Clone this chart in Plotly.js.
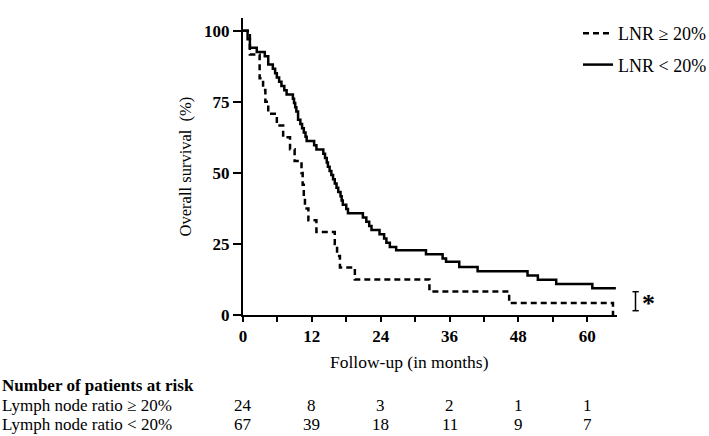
<!DOCTYPE html>
<html>
<head>
<meta charset="utf-8">
<script src="https://cdn.plot.ly/plotly-3.0.1.min.js"></script>
<style>
  html, body { margin: 0; padding: 0; background: #fff; }
  #chart { width: 709px; height: 436px; }
</style>
</head>
<body>
<div id="chart"></div>
<script>
// Kaplan-Meier steps (months, % surviving)
var highMonths = [0, 1.2, 2.9, 3.5, 3.9, 4.4, 5.9, 7.0, 8.2, 9.0, 10.2, 10.4, 10.6, 10.8, 11.4, 12.8, 16.0, 16.4, 16.9, 19.5, 32.5, 46.4, 64.5];
var highSurv   = [100, 91.7, 83.3, 79.2, 75.0, 70.8, 66.7, 62.5, 58.3, 54.2, 50.0, 45.8, 41.7, 37.5, 33.3, 29.2, 25.0, 20.8, 16.7, 12.5, 8.3, 4.2, 0];

var lowMonths = [0, 0.8, 1.2, 2.4, 3.8, 4.4, 5.2, 5.6, 5.9, 6.3, 6.7, 7.2, 7.6, 8.7, 8.9, 9.1, 9.3, 9.6, 10.0, 10.3, 10.6, 10.9, 11.1, 12.4, 12.8, 14.0, 14.3, 14.6, 14.8, 15.1, 15.4, 15.7, 16.0, 16.3, 16.6, 17.0, 17.2, 17.4, 18.0, 18.3, 20.9, 21.5, 22.0, 22.4, 23.8, 24.6, 25.0, 25.6, 26.7, 31.9, 34.8, 35.4, 37.7, 40.9, 49.6, 51.4, 54.6, 60.9, 65.0];
var lowSurv   = [100, 97.0, 94.0, 92.5, 91.0, 88.1, 86.6, 85.1, 83.6, 82.1, 80.6, 79.1, 77.6, 76.1, 74.6, 73.1, 71.6, 68.7, 67.2, 65.7, 64.2, 62.7, 61.2, 59.7, 58.2, 56.7, 55.2, 53.7, 52.2, 50.7, 49.3, 47.8, 46.3, 44.8, 43.3, 41.8, 40.3, 38.8, 37.3, 35.8, 34.3, 32.8, 31.3, 29.9, 28.4, 26.9, 25.4, 23.9, 22.8, 21.4, 19.9, 18.7, 16.9, 15.4, 13.9, 12.4, 10.9, 9.4, 9.4];

var xTicks = [0, 12, 24, 36, 48, 60];
var yTicks = [0, 25, 50, 75, 100];
var riskHigh = [24, 8, 3, 2, 1, 1];
var riskLow  = [67, 39, 18, 11, 9, 7];
var rowLabels = ['Lymph node ratio \u2265 20%', 'Lymph node ratio < 20%'];

var serif = 'Liberation Serif, Times New Roman, serif';
var plotW = 374, plotH = 297, left = 243;

var traceHigh = {
  x: highMonths, y: highSurv,
  mode: 'lines', name: 'LNR \u2265 20%', legendgroup: 'a',
  line: {shape: 'hv', color: '#000', width: 2.5, dash: '6px,4px'}
};
var traceLow = {
  x: lowMonths, y: lowSurv,
  mode: 'lines', name: 'LNR < 20%', legendgroup: 'b',
  line: {shape: 'hv', color: '#000', width: 2.5}
};

function py(p) { return (315 - p) / plotH; }   // pixel row -> paper y
function px(p) { return (p - left) / plotW; }   // pixel col -> paper x

var annotations = [
  {text: 'Follow-up (in months)', xref: 'x', yref: 'paper', x: 29, y: py(362),
   yanchor: 'middle', showarrow: false, font: {family: serif, size: 17.5, color: '#000'}},
  {text: '<b>Number of patients at risk</b>', xref: 'paper', yref: 'paper',
   x: px(0), y: py(385), xanchor: 'left', yanchor: 'middle', showarrow: false,
   font: {family: serif, size: 17, color: '#000'}},
  {text: '<b>*</b>', xref: 'paper', yref: 'paper', x: px(648), y: py(303),
   xanchor: 'center', yanchor: 'middle', showarrow: false,
   font: {family: serif, size: 26, color: '#000'}}
];
var rows = [riskHigh, riskLow];
var rowY = [py(405), py(425)];
rows.forEach(function (vals, r) {
  annotations.push({text: rowLabels[r], xref: 'paper', yref: 'paper', x: px(0), y: rowY[r],
    xanchor: 'left', yanchor: 'middle', showarrow: false, font: {family: serif, size: 17, color: '#000'}});
  vals.forEach(function (v, i) {
    annotations.push({text: String(v), xref: 'x', yref: 'paper', x: xTicks[i], y: rowY[r],
      xanchor: 'center', yanchor: 'middle', showarrow: false, font: {family: serif, size: 17, color: '#000'}});
  });
});

// significance bracket
var bx = px(635.5), b0 = px(632.5), b1 = px(638.8), yTop = py(291.7), yBot = py(310.7);
var shapes = [
  {type: 'line', xref: 'paper', yref: 'paper', x0: bx, x1: bx, y0: yBot, y1: yTop, line: {color: '#000', width: 1.5}},
  {type: 'line', xref: 'paper', yref: 'paper', x0: b0, x1: b1, y0: yTop, y1: yTop, line: {color: '#000', width: 1.5}},
  {type: 'line', xref: 'paper', yref: 'paper', x0: b0, x1: b1, y0: yBot, y1: yBot, line: {color: '#000', width: 1.5}}
];

var layout = {
  width: 709, height: 436,
  margin: {l: 243, r: 92, t: 18, b: 121, autoexpand: false},
  paper_bgcolor: '#fff', plot_bgcolor: '#fff',
  showlegend: true,
  legend: {x: px(578), y: 1.0 + 3 / plotH, xanchor: 'left', yanchor: 'top', traceorder: 'grouped', tracegroupgap: 5,
    font: {family: serif, size: 18, color: '#000'}, itemwidth: 30, bgcolor: 'rgba(0,0,0,0)'},
  xaxis: {
    range: [0, 65.2], tickvals: xTicks, showgrid: false, zeroline: false,
    showline: true, linecolor: '#000', linewidth: 2,
    ticks: 'outside', ticklen: 5, tickwidth: 2, tickcolor: '#000',
    minor: {dtick: 6, ticks: 'outside', ticklen: 5, tickwidth: 2, tickcolor: '#000', showgrid: false},
    tickfont: {family: serif, size: 17, color: '#000', weight: 'bold'}
  },
  yaxis: {
    range: [0, 104.5], tickvals: yTicks, showgrid: false, zeroline: false,
    showline: true, linecolor: '#000', linewidth: 2,
    ticks: 'outside', ticklen: 8, tickwidth: 2, tickcolor: '#000',
    tickfont: {family: serif, size: 17, color: '#000', weight: 'bold'},
    title: {text: 'Overall survival  (%)', standoff: 8, font: {family: serif, size: 16.5, color: '#000'}}
  },
  annotations: annotations,
  shapes: shapes
};

Plotly.newPlot('chart', [traceHigh, traceLow], layout, {displayModeBar: false, staticPlot: true});
</script>
</body>
</html>
